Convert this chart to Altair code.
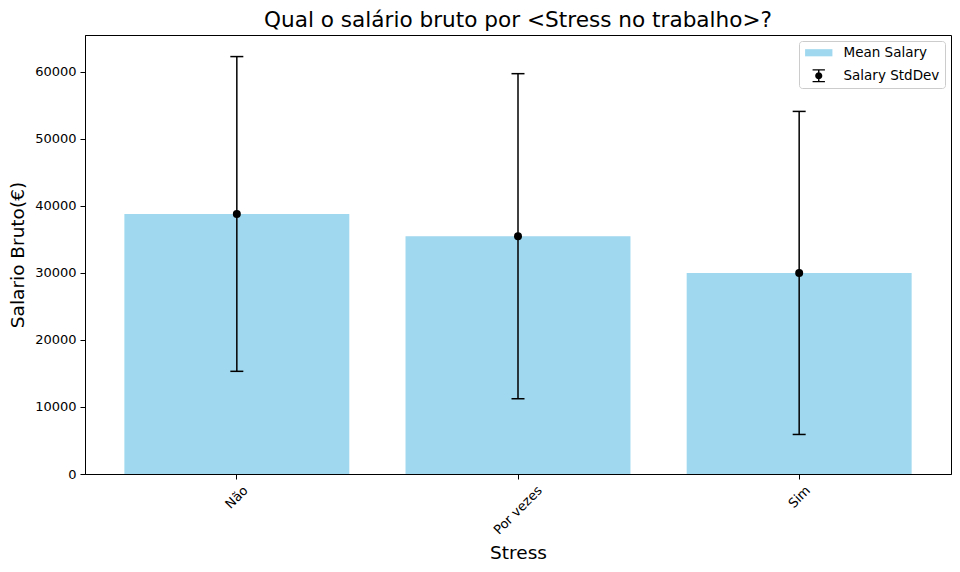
import altair as alt
import pandas as pd

categories = ["Não", "Por vezes", "Sim"]
mean_salary = [38800, 35480, 30000]
std_salary = [23480, 24250, 24100]
legend_labels = ["Mean Salary", "Salary StdDev"]

df = pd.DataFrame({
    "Stress": categories,
    "mean": mean_salary,
    "std": std_salary,
})
df["low"] = df["mean"] - df["std"]
df["high"] = df["mean"] + df["std"]

legend_df = pd.DataFrame({"series": legend_labels})

FONT = "DejaVu Sans"
rect_path = "M-2.1,-0.55H2.1V0.55H-2.1Z"
err_path = ("M-0.95,-1H0.95V-0.8H-0.95Z M-0.11,-0.9H0.11V0.9H-0.11Z "
            "M-0.95,0.8H0.95V1H-0.95Z "
            "M-0.55,0A0.55,0.55 0 1,1 0.55,0A0.55,0.55 0 1,1 -0.55,0Z")

x_enc = alt.X(
    "Stress:N",
    sort=categories,
    title="Stress",
    scale=alt.Scale(paddingInner=0.2, paddingOuter=0.14),
    axis=alt.Axis(
        labelAngle=315,
        labelAlign="right",
        labelBaseline="middle",
        labelPadding=9,
        labelOffset={
            "condition": [
                {"test": "datum.value === 'Por vezes'", "value": 22},
                {"test": "datum.value === 'Sim'", "value": 9},
            ],
            "value": 9,
        },
        titlePadding=7,
    ),
)
y_scale = alt.Scale(domain=[0, 65500], nice=False, zero=True)

base = alt.Chart(df)

bars = base.mark_bar(color="#87CEEB", opacity=0.8).encode(
    x=x_enc,
    y=alt.Y(
        "mean:Q",
        scale=y_scale,
        title="Salario Bruto(€)",
        axis=alt.Axis(values=[0, 10000, 20000, 30000, 40000, 50000, 60000],
                      format="d", titlePadding=7),
    ),
)

rules = base.mark_rule(color="black", strokeWidth=1.5).encode(
    x=alt.X("Stress:N", sort=categories),
    y=alt.Y("low:Q", scale=y_scale),
    y2="high:Q",
)
cap_low = base.mark_tick(color="black", thickness=1.5, size=13, opacity=1).encode(
    x=alt.X("Stress:N", sort=categories),
    y=alt.Y("low:Q", scale=y_scale),
)
cap_high = base.mark_tick(color="black", thickness=1.5, size=13, opacity=1).encode(
    x=alt.X("Stress:N", sort=categories),
    y=alt.Y("high:Q", scale=y_scale),
)
points = base.mark_circle(color="black", size=64, opacity=1).encode(
    x=alt.X("Stress:N", sort=categories),
    y=alt.Y("mean:Q", scale=y_scale),
)

legend_layer = alt.Chart(legend_df).transform_filter("false").mark_point(
    filled=True, opacity=1
).encode(
    color=alt.Color(
        "series:N",
        scale=alt.Scale(domain=legend_labels, range=["#9FD8EF", "black"]),
        legend=alt.Legend(
            title=None,
            orient="top-right",
            offset=6,
            padding=5,
            symbolSize=169,
            symbolOffset=8,
            labelOffset=18,
            rowPadding=8,
            symbolOpacity=1,
            symbolStrokeWidth=0,
            labelFontSize=13.5,
            labelFont=FONT,
            labelColor="black",
            strokeColor="#cccccc",
            fillColor="rgba(255,255,255,0.8)",
            cornerRadius=3,
        ),
    ),
    shape=alt.Shape(
        "series:N",
        scale=alt.Scale(domain=legend_labels, range=[rect_path, err_path]),
    ),
)

chart = alt.layer(bars, rules, cap_low, cap_high, points, legend_layer).properties(
    width=866,
    height=439,
    autosize=alt.AutoSizeParams(type="none"),
    padding={"left": 77, "top": 27, "right": 1, "bottom": 90},
    title=alt.TitleParams(
        "Qual o salário bruto por <Stress no trabalho>?",
        font=FONT,
        fontSize=21.6,
        fontWeight="normal",
        color="black",
        anchor="middle",
        offset=3,
    ),
).configure_view(
    stroke="black", strokeWidth=1
).configure_axis(
    labelFont=FONT,
    labelFontSize=13,
    labelColor="black",
    titleFont=FONT,
    titleFontSize=18.5,
    titleFontWeight="normal",
    titleColor="black",
    domainColor="black",
    domainWidth=1,
    tickColor="black",
    tickWidth=1,
    tickSize=5,
    grid=False,
).configure_axisY(
    labelPadding=4,
)

chart.save("out.html", embed_options={"renderer": "svg", "actions": False})
